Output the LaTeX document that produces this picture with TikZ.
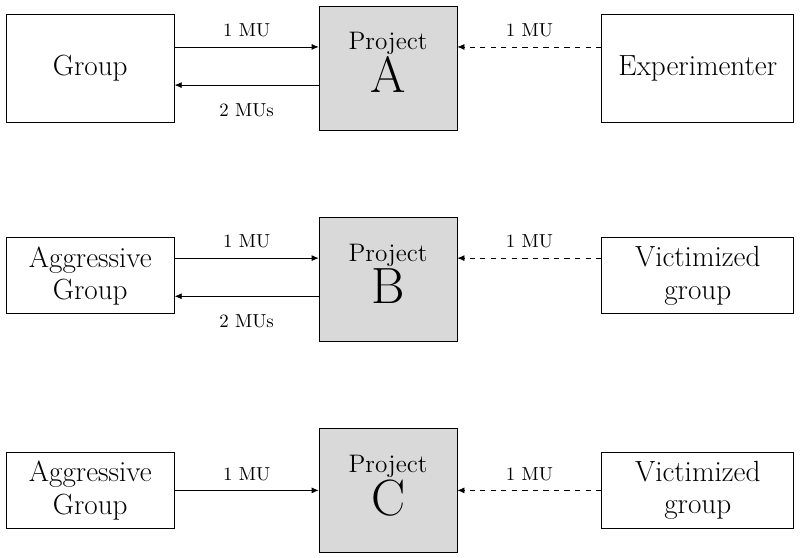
\documentclass[tikz,border=0pt]{standalone}
\usepackage{xcolor}
\usepackage{tikz}
\usetikzlibrary{arrows.meta,positioning,calc}
\definecolor{ProjGray}{HTML}{D9D9D9}

\newcommand{\projtitle}[1]{{\fontsize{14.4}{17}\selectfont Project}\\{\fontsize{29}{30}\selectfont #1}}

\begin{document}
\begin{tikzpicture}[
  node distance=49.2pt and 81.9pt,
  side/.style={draw, align=center, font=\fontsize{16.6}{18.4}\selectfont, minimum width=95.6pt, minimum height=43.2pt, inner sep=2pt},
  tall/.style={minimum height=61.4pt},
  wide/.style={minimum width=109.2pt},
  proj/.style={draw, fill=ProjGray, align=center, minimum width=78.5pt, minimum height=70.5pt, inner sep=2pt, text depth=6pt},
  arrow/.style={-{Latex[length=4pt,width=3.4pt]}},
  lbl/.style={font=\fontsize{10.7}{13}\selectfont}
]
\useasboundingbox (0,0) rectangle (455pt,-316.8pt);

\node[proj] (projA) at (220.7pt,-38.7pt) {\projtitle{A}};
\node[proj, below=of projA] (projB) {\projtitle{B}};
\node[proj, below=of projB] (projC) {\projtitle{C}};

\node[side, tall, left=of projA] (grpA) {Group};
\node[side, tall, wide, right=of projA] (expA) {Experimenter};
\node[side, left=of projB, yshift=2pt] (grpB) {Aggressive\\Group};
\node[side, wide, right=of projB, yshift=2pt] (vicB) {Victimized\\group};
\node[side, left=of projC] (grpC) {Aggressive\\Group};
\node[side, wide, right=of projC] (vicC) {Victimized\\group};

% row A
\draw[arrow] ([yshift=12pt]grpA.east) -- node[lbl, above=2pt] {1 MU} ([yshift=12pt]projA.west);
\draw[arrow] ([yshift=-9.7pt]projA.west) -- node[lbl, below=7pt] {2 MUs} ([yshift=-9.7pt]grpA.east);
\draw[arrow, dashed] ([yshift=12pt]expA.west) -- node[lbl, above=2pt] {1 MU} ([yshift=12pt]projA.east);

% row B
\draw[arrow] ([yshift=10pt]grpB.east) -- node[lbl, above=2pt] {1 MU} ([yshift=12pt]projB.west);
\draw[arrow] ([yshift=-9.7pt]projB.west) -- node[lbl, below=7pt] {2 MUs} ([yshift=-11.7pt]grpB.east);
\draw[arrow, dashed] ([yshift=10pt]vicB.west) -- node[lbl, above=2pt] {1 MU} ([yshift=12pt]projB.east);

% row C
\draw[arrow] (grpC) -- node[lbl, above=2pt] {1 MU} (projC);
\draw[arrow, dashed] (vicC) -- node[lbl, above=2pt] {1 MU} (projC);
\end{tikzpicture}
\end{document}
